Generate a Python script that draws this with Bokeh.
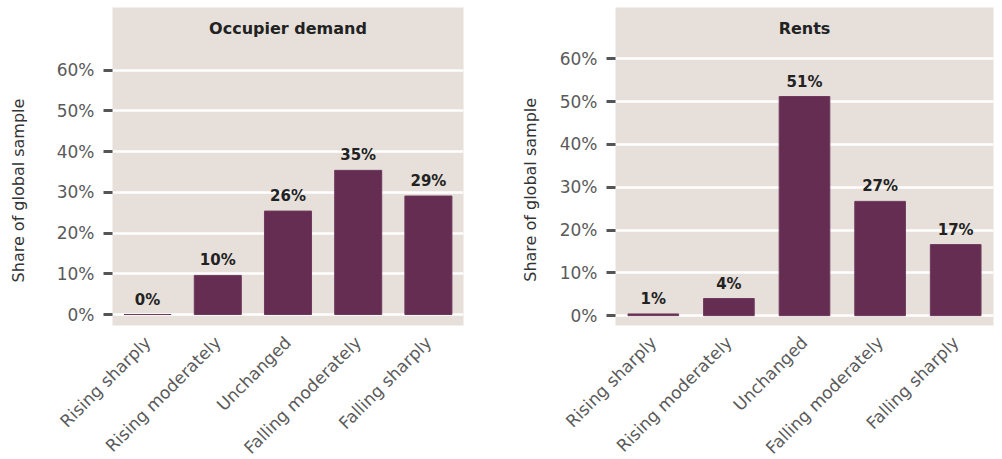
import math
from bokeh.plotting import figure
from bokeh.layouts import row
from bokeh.models import Range1d, FixedTicker, Label
from bokeh.core.properties import value
from bokeh.embed import file_html
from bokeh.resources import INLINE

categories = ["Rising sharply", "Rising moderately", "Unchanged", "Falling moderately", "Falling sharply"]
demand_values = [0.0, 9.6, 25.4, 35.4, 29.1]
demand_labels = ["0%", "10%", "26%", "35%", "29%"]
rents_values = [0.4, 4.0, 51.2, 26.7, 16.6]
rents_labels = ["1%", "4%", "51%", "27%", "17%"]
y_ticks = [0, 10, 20, 30, 40, 50, 60]
y_tick_labels = ["0%", "10%", "20%", "30%", "40%", "50%", "60%"]
y_title = "Share of global sample"

BG = "#e6dfda"
BAR = "#652d52"
FONT = "DejaVu Sans"
H = 452


def title_strip(width, cx, cy_from_top):
    s = figure(width=width, height=H, x_range=Range1d(0, width), y_range=Range1d(0, H),
               x_axis_type=None, y_axis_type=None, output_backend="svg", toolbar_location=None,
               min_border=0)
    s.background_fill_color = "white"
    s.border_fill_color = "white"
    s.outline_line_color = None
    s.grid.visible = False
    s.text(x=[cx], y=[H - cy_from_top], text=[y_title], angle=math.pi / 2,
           text_align="center", text_baseline="middle", text_font=value(FONT),
           text_font_size="16px", text_color="#333333")
    return s


def make_panel(title, vals, labels, y_start, y_end, title_y, fw, fh, bl, br, width):
    p = figure(x_range=categories, y_range=Range1d(y_start, y_end),
               width=width, height=H, output_backend="svg", toolbar_location=None,
               min_border_left=bl, min_border_right=br, min_border_top=7, min_border_bottom=10)
    p.frame_width = fw
    p.frame_height = fh
    p.background_fill_color = BG
    p.border_fill_color = "white"
    p.outline_line_color = None

    p.vbar(x=categories, top=vals, width=0.67, bottom=0, fill_color=BAR, line_color="#6e3a5c")
    p.text(x=categories, y=vals, text=labels, y_offset=-6, text_align="center",
           text_baseline="bottom", text_font=value(FONT), text_font_style="bold",
           text_font_size="15px", text_color="#222222")

    p.add_layout(Label(x=2.5, y=title_y, text=title, text_align="center", text_baseline="middle",
                       text_font=FONT, text_font_style="bold", text_font_size="16px",
                       text_color="#222222"))

    p.xgrid.grid_line_color = None
    p.ygrid.grid_line_color = "white"
    p.ygrid.grid_line_width = 2.5
    p.ygrid.ticker = FixedTicker(ticks=y_ticks)

    p.yaxis.ticker = FixedTicker(ticks=y_ticks)
    p.yaxis.major_label_overrides = {t: s for t, s in zip(y_ticks, y_tick_labels)}
    p.yaxis.axis_line_color = None
    p.yaxis.major_tick_in = 0
    p.yaxis.major_tick_out = 9
    p.yaxis.major_tick_line_color = "#555555"
    p.yaxis.major_tick_line_width = 3
    p.yaxis.minor_tick_line_color = None
    p.yaxis.major_label_text_font = FONT
    p.yaxis.major_label_text_font_size = "17px"
    p.yaxis.major_label_text_color = "#5a5a5a"
    p.yaxis.major_label_standoff = 9

    p.xaxis.axis_line_color = None
    p.xaxis.major_tick_line_color = None
    p.xaxis.major_label_orientation = math.pi / 4
    p.xaxis.major_label_text_font = FONT
    p.xaxis.major_label_text_font_size = "17px"
    p.xaxis.major_label_text_color = "#5a5a5a"
    p.xaxis.major_label_standoff = 8
    return p


t1 = title_strip(30, 18, 273)
p1 = make_panel("Occupier demand", demand_values, demand_labels, -2.7, 75.4, 70.3,
                351, 318, 82, 17, 450)
t2 = title_strip(65, 50, 272)
p2 = make_panel("Rents", rents_values, rents_labels, -2.3, 72.0, 67.0,
                378, 318, 70, 2, 450)

layout = row(t1, p1, t2, p2)
open("out.html", "w").write(file_html(layout, INLINE))
